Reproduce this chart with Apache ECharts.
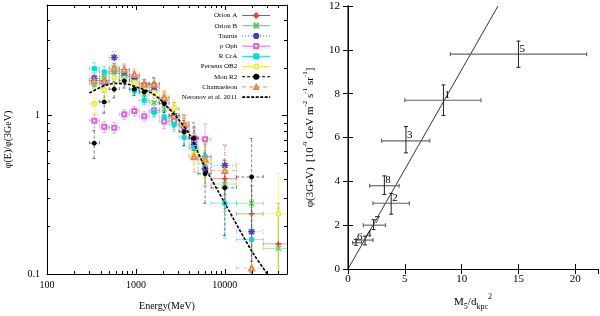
<!DOCTYPE html>
<html><head><meta charset="utf-8">
<script src="https://cdn.jsdelivr.net/npm/echarts@6/dist/echarts.min.js"></script>
<style>html,body{margin:0;padding:0;background:#fff}#c{width:600px;height:316px}</style>
</head><body><div id="c"></div>
<script>
// ---------- Left panel data ----------
const energyMeV  = [340, 440, 570, 740, 960, 1240, 1600, 2080, 2690, 3480, 4500, 6000, 10000, 20000, 40000];
const binLowMeV  = [300, 390, 500, 650, 845, 1090, 1410, 1830, 2360, 3060, 3960, 5000, 7000, 13500, 27000];
const binHighMeV = [390, 500, 650, 845, 1090, 1410, 1830, 2360, 3060, 3960, 5000, 7000, 13500, 27000, 55000];

const orionA  = [1.66, 1.66, 1.85, 1.95, 1.78, 1.60, 1.52, 1.30, 1.10, 0.90, 0.72, 0.55, 0.40, 0.24, 0.155];
const orionB  = [1.58, 1.76, 2.00, 1.89, 1.64, 1.37, 1.21, 1.10, 0.98, 0.80, 0.62, 0.50, 0.37, 0.28, 0.145];
const taurus  = [1.72, 1.62, 2.33, 1.80, 1.72, 1.55, 1.45, 1.25, 1.00, 0.85, 0.66, 0.46, 0.485, 0.185, null];
const rhoOph  = [0.93, 0.85, 0.84, 1.02, 1.07, 0.99, 1.08, 0.92, 0.93, 0.86, 0.72, 0.71, null, null, null];
const rCrA    = [1.98, 1.89, 1.90, 1.75, 1.44, 1.25, 1.05, 0.98, 0.88, 0.73, 0.63, 0.55, 0.28, 0.165, null];
const persOB2 = [1.19, 1.45, 1.74, 1.70, 1.62, 1.50, 1.40, 1.31, 1.12, 0.88, 0.57, 0.52, null, null, 0.24];
const monR2   = [0.67, 1.22, 1.47, 1.66, 1.47, 1.41, 1.58, 1.19, 1.00, 0.79, 0.72, 0.43, 0.35, 0.41, null];
const chamael = [1.66, 1.66, 2.00, 1.95, 1.82, 1.58, 1.58, 1.30, 1.00, 0.88, 0.55, 0.53, 0.45, 0.109, null];

// relative y uncertainties
const errOrionA  = [0.08, 0.07, 0.07, 0.07, 0.06, 0.06, 0.07, 0.08, 0.10, 0.12, 0.16, 0.20, 0.30, 0.50, 0.80];
const errOrionB  = [0.08, 0.07, 0.07, 0.06, 0.06, 0.06, 0.07, 0.08, 0.09, 0.11, 0.14, 0.20, 0.30, 0.50, 0.80];
const errTaurus  = [0.09, 0.08, 0.09, 0.08, 0.07, 0.07, 0.08, 0.09, 0.11, 0.13, 0.17, 0.22, 0.35, 0.60, null];
const errRhoOph  = [0.10, 0.08, 0.08, 0.07, 0.07, 0.07, 0.08, 0.10, 0.12, 0.14, 0.18, 0.25, null, null, null];
const errRCrA    = [0.09, 0.08, 0.08, 0.07, 0.06, 0.06, 0.07, 0.08, 0.10, 0.12, 0.15, 0.22, 0.40, 0.60, null];
const errPersOB2 = [0.15, 0.12, 0.10, 0.09, 0.08, 0.08, 0.09, 0.10, 0.12, 0.15, 0.20, 0.30, null, null, 0.80];
const errMonR2   = [0.20, 0.15, 0.12, 0.10, 0.09, 0.09, 0.10, 0.12, 0.15, 0.18, 0.25, 0.35, 0.50, 0.75, null];
const errChamael = [0.10, 0.10, 0.09, 0.09, 0.08, 0.08, 0.09, 0.10, 0.12, 0.15, 0.20, 0.30, 0.45, 0.70, null];

const neronovE = [300, 400, 500, 600, 800, 1000, 1500, 2000, 3000, 4000, 6000, 10000, 20000, 30000, 36000];
const neronovV = [1.39, 1.51, 1.58, 1.60, 1.58, 1.52, 1.39, 1.22, 0.95, 0.76, 0.47, 0.28, 0.14, 0.10, 0.085];

const energyRange = [100, 50000];
const ratioRange  = [0.1, 5];
const minorYTicks = [0.2, 0.3, 0.4, 0.5, 0.6, 0.7, 0.8, 0.9, 2, 3, 4];
const minorXTicks = [200, 300, 400, 500, 600, 700, 800, 900, 2000, 3000, 4000, 5000, 6000, 7000, 8000, 9000, 20000, 30000, 40000];

// ---------- Right panel data ----------
const regionId  = [1, 2, 3, 4, 5, 6, 7, 8];
const massRatio = [8.4, 3.8, 5.1, 1.5, 15.0, 0.7, 2.25, 3.2];
const massLo    = [5.0, 2.2, 2.95, 0.72, 9.0, 0.41, 1.35, 1.9];
const massHi    = [11.7, 5.4, 7.2, 2.2, 21.0, 1.2, 3.3, 4.5];
const flux3GeV  = [7.7, 3.0, 5.85, 1.32, 9.8, 1.2, 2.0, 3.8];
const fluxLo    = [7.0, 2.5, 5.3, 1.1, 9.2, 1.08, 1.8, 3.4];
const fluxHi    = [8.4, 3.45, 6.5, 1.5, 10.4, 1.35, 2.25, 4.25];
const fitX = [0, 13.2];
const fitY = [0, 12];

// ---------- build ----------
const SERIF = 'Liberation Serif, DejaVu Serif, serif';
const sets = [
  {name: 'Orion A', v: orionA, e: errOrionA, color: '#e4403a', dash: 'solid', sym: 'path://M4.4,0H5.6V4.4H10V5.6H5.6V10H4.4V5.6H0V4.4H4.4Z', size: 5},
  {name: 'Orion B', v: orionB, e: errOrionB, color: '#55cc55', dash: 'solid', sym: 'path://M0.8,0L5,4.2L9.2,0L10,0.8L5.8,5L10,9.2L9.2,10L5,5.8L0.8,10L0,9.2L4.2,5L0,0.8Z', size: 5},
  {name: 'Taurus', v: taurus, e: errTaurus, color: '#4040c0', dash: [1, 2], sym: 'path://M4.4,0H5.6V3.6L8.5,0.7L9.3,1.5L6.4,4.4H10V5.6H6.4L9.3,8.5L8.5,9.3L5.6,6.4V10H4.4V6.4L1.5,9.3L0.7,8.5L3.6,5.6H0V4.4H3.6L0.7,1.5L1.5,0.7L4.4,3.6Z', size: 6},
  {name: 'ρ Oph', v: rhoOph, e: errRhoOph, color: '#dd66dd', dash: 'solid', sym: 'emptyRect', size: 4},
  {name: 'R CrA', v: rCrA, e: errRCrA, color: '#00dcdc', dash: 'solid', sym: 'rect', size: 4},
  {name: 'Perseus OB2', v: persOB2, e: errPersOB2, color: '#ecec40', dash: 'solid', sym: 'emptyCircle', size: 4},
  {name: 'Mon R2', v: monR2, e: errMonR2, color: '#000000', dash: [3, 2], sym: 'circle', size: 4},
  {name: 'Chamaeleon', v: chamael, e: errChamael, color: '#e08a4a', dash: [4, 3], sym: 'emptyTriangle', size: 5}
];

function pts(vals) {
  return energyMeV.map((e, i) => vals[i] == null ? null : [e, vals[i]]).filter(Boolean);
}
function errItems(vals, errs) {
  return energyMeV.map((e, i) => vals[i] == null ? null :
    [e, vals[i], binLowMeV[i], binHighMeV[i], vals[i] * (1 - errs[i]), vals[i] * (1 + errs[i])]).filter(Boolean);
}
function errRender(color, dash, width, hColor, opacity, withLabel) {
  return function (params, api) {
    const x = api.value(0), y = api.value(1);
    const p = api.coord([x, y]);
    const l = api.coord([api.value(2), y]), r = api.coord([api.value(3), y]);
    const b = api.coord([x, api.value(4)]), t = api.coord([x, api.value(5)]);
    const cap = 2;
    const st = {stroke: color, lineWidth: 1, lineDash: dash === 'solid' ? null : dash, opacity: opacity};
    const sth = {stroke: hColor || color, lineWidth: width || 1, lineDash: dash === 'solid' ? null : dash, opacity: opacity};
    const line = (x1, y1, x2, y2, s) => ({type: 'line', shape: {x1, y1, x2, y2}, style: s});
    const children = [
      line(l[0], l[1], r[0], r[1], sth),
      line(l[0], l[1] - cap, l[0], l[1] + cap, sth),
      line(r[0], r[1] - cap, r[0], r[1] + cap, sth),
      line(b[0], b[1], t[0], t[1], st),
      line(b[0] - cap, b[1], b[0] + cap, b[1], st),
      line(t[0] - cap, t[1], t[0] + cap, t[1], st)
    ];
    if (withLabel) {
      children.push({type: 'text', x: p[0] + 1, y: p[1] - 5.5, silent: true,
        style: {text: String(api.value(6)), fill: '#000', font: '11px ' + SERIF,
          textAlign: 'left', textVerticalAlign: 'middle', verticalAlign: 'middle'}});
    }
    return {type: 'group', children: children};
  };
}
function logFmt(v) {
  const l = Math.log10(v);
  if (Math.abs(l - Math.round(l)) > 1e-6) return '';
  return v < 1 ? v.toFixed(1) : String(Math.round(v));
}

const series = [];
sets.forEach(s => {
  series.push({
    type: 'custom', name: s.name + ' err', xAxisIndex: 0, yAxisIndex: 0, clip: true, silent: true, z: 2,
    data: errItems(s.v, s.e), encode: {x: 0, y: 1},
    renderItem: errRender(s.color, s.dash, 1, null, 0.5, false)
  });
});
sets.forEach(s => {
  series.push({
    type: 'line', name: s.name, xAxisIndex: 0, yAxisIndex: 0, data: pts(s.v),
    symbol: s.sym, symbolSize: s.size, showSymbol: true, clip: true, silent: true, z: 3,
    itemStyle: {color: s.color, borderColor: s.color, borderWidth: 1},
    lineStyle: {opacity: 0, color: s.color, type: s.dash, width: 1}
  });
});
series.push({
  type: 'line', name: 'Neronov et al. 2011', xAxisIndex: 0, yAxisIndex: 0,
  data: neronovE.map((e, i) => [e, neronovV[i]]), smooth: 0.3, symbol: 'none', showSymbol: false,
  clip: true, silent: true, z: 4,
  itemStyle: {color: '#000'},
  lineStyle: {color: '#000', width: 1.6, type: [3, 1.5]}
});
// minor ticks for the log axes
series.push({
  type: 'custom', xAxisIndex: 0, yAxisIndex: 0, clip: false, silent: true, z: 5,
  data: minorYTicks.map(v => [energyRange[0], v]), encode: {x: 0, y: 1},
  renderItem: (p, api) => {
    const v = api.value(1);
    const a = api.coord([energyRange[0], v]), b = api.coord([energyRange[1], v]);
    const st = {stroke: '#000', lineWidth: 1};
    return {type: 'group', children: [
      {type: 'line', shape: {x1: a[0], y1: Math.round(a[1]) + 0.5, x2: a[0] + 3, y2: Math.round(a[1]) + 0.5}, style: st},
      {type: 'line', shape: {x1: b[0] - 3, y1: Math.round(b[1]) + 0.5, x2: b[0], y2: Math.round(b[1]) + 0.5}, style: st}
    ]};
  }
});
series.push({
  type: 'custom', xAxisIndex: 0, yAxisIndex: 0, clip: false, silent: true, z: 5,
  data: minorXTicks.map(v => [v, ratioRange[0]]), encode: {x: 0, y: 1},
  renderItem: (p, api) => {
    const v = api.value(0);
    const a = api.coord([v, ratioRange[0]]), b = api.coord([v, ratioRange[1]]);
    const st = {stroke: '#000', lineWidth: 1};
    const x = Math.round(a[0]) + 0.5;
    return {type: 'group', children: [
      {type: 'line', shape: {x1: x, y1: a[1], x2: x, y2: a[1] - 3}, style: st},
      {type: 'line', shape: {x1: x, y1: b[1], x2: x, y2: b[1] + 3}, style: st}
    ]};
  }
});

// Right panel
series.push({
  type: 'custom', name: 'regions err', xAxisIndex: 2, yAxisIndex: 2, clip: false, silent: true, z: 4,
  data: regionId.map((id, i) => [massRatio[i], flux3GeV[i], massLo[i], massHi[i], fluxLo[i], fluxHi[i], id]),
  encode: {x: 0, y: 1},
  renderItem: errRender('#222', 'solid', 1.2, '#666', 1, true)
});
series.push({
  type: 'line', name: 'fit', xAxisIndex: 2, yAxisIndex: 2, clip: true, silent: true, z: 3,
  data: fitX.map((x, i) => [x, fitY[i]]), symbol: 'none',
  lineStyle: {color: '#000', width: 0.8}
});

const axLine = {show: true, lineStyle: {color: '#000', width: 1}};
const tick = {show: true, inside: true, length: 5, lineStyle: {color: '#000', width: 1}};
const lblL = {fontFamily: SERIF, fontSize: 10, color: '#000'};
const lblR = {fontFamily: SERIF, fontSize: 11, color: '#000'};

const option = {
  animation: false,
  backgroundColor: '#fff',
  grid: [
    {left: 47, right: 313, top: 5, bottom: 33, show: false},
    {left: 348, right: 2, top: 6, bottom: 35, show: false}
  ],
  legend: {
    data: sets.map(s => ({name: s.name, lineStyle: {opacity: 1, width: 1, color: s.color, type: s.dash}}))
      .concat([{name: 'Neronov et al. 2011', itemStyle: {opacity: 0},
        lineStyle: {opacity: 1, width: 1.6, color: '#000', type: [3, 1.5]}}]),
    orient: 'vertical', right: 324, top: 7, align: 'right',
    itemWidth: 28, itemHeight: 5, itemGap: 3.2, selectedMode: false,
    textStyle: {fontFamily: SERIF, fontSize: 7, color: '#000'}
  },
  xAxis: [
    {type: 'log', gridIndex: 0, min: energyRange[0], max: energyRange[1], logBase: 10, position: 'bottom',
     axisLine: axLine, axisTick: tick, splitLine: {show: false},
     axisLabel: Object.assign({formatter: logFmt, margin: 6}, lblL),
     name: 'Energy(MeV)', nameLocation: 'middle', nameGap: 27,
     nameTextStyle: {fontFamily: SERIF, fontSize: 10, color: '#000'}},
    {type: 'log', gridIndex: 0, min: energyRange[0], max: energyRange[1], logBase: 10, position: 'top',
     axisLine: axLine, axisTick: tick, splitLine: {show: false}, axisLabel: {show: false}},
    {type: 'value', gridIndex: 1, min: 0, max: 22, interval: 5, position: 'bottom',
     axisLine: axLine, axisTick: tick, splitLine: {show: false},
     axisLabel: Object.assign({showMaxLabel: false, margin: 5}, lblR),
     name: '{a|M}{b|5}{a|/d}{b|kpc}{c|2}', nameLocation: 'middle', nameGap: 24,
     nameTextStyle: {fontFamily: SERIF, color: '#000', rich: {
       a: {fontFamily: SERIF, fontSize: 11, color: '#000', lineHeight: 18},
       b: {fontFamily: SERIF, fontSize: 8, color: '#000', verticalAlign: 'bottom', lineHeight: 8},
       c: {fontFamily: SERIF, fontSize: 8, color: '#000', verticalAlign: 'top', lineHeight: 8}
     }}},
    {type: 'value', gridIndex: 1, min: 0, max: 22, interval: 5, position: 'top',
     axisLine: axLine, axisTick: tick, splitLine: {show: false}, axisLabel: {show: false}}
  ],
  yAxis: [
    {type: 'log', gridIndex: 0, min: ratioRange[0], max: ratioRange[1], logBase: 10, position: 'left',
     axisLine: axLine, axisTick: tick, splitLine: {show: false},
     axisLabel: Object.assign({formatter: logFmt, margin: 7}, lblL),
     name: 'φ(E)/φ(3GeV)', nameLocation: 'middle', nameGap: 34,
     nameTextStyle: {fontFamily: SERIF, fontSize: 10, color: '#000'}},
    {type: 'log', gridIndex: 0, min: ratioRange[0], max: ratioRange[1], logBase: 10, position: 'right',
     axisLine: axLine, axisTick: tick, splitLine: {show: false}, axisLabel: {show: false}},
    {type: 'value', gridIndex: 1, min: 0, max: 12, interval: 2, position: 'left',
     axisLine: {show: true, lineStyle: {color: '#777', width: 2}}, axisTick: tick, splitLine: {show: false},
     axisLabel: Object.assign({margin: 8}, lblR),
     name: '{a|φ(3GeV)  [10}{s|-9}{a| GeV m}{s|-2}{a| s}{s|-1}{a| sr}{s|-1}{a|]}',
     nameLocation: 'middle', nameGap: 30,
     nameTextStyle: {fontFamily: SERIF, color: '#000', rich: {
       a: {fontFamily: SERIF, fontSize: 11, color: '#000', lineHeight: 16},
       s: {fontFamily: SERIF, fontSize: 7, color: '#000', verticalAlign: 'top', lineHeight: 8}
     }}},
    {type: 'value', gridIndex: 1, min: 0, max: 12, interval: 2, position: 'right',
     axisLine: axLine, axisTick: tick, splitLine: {show: false}, axisLabel: {show: false}}
  ],
  series: series
};
const chart = echarts.init(document.getElementById('c'), null, {renderer: 'canvas'});
chart.setOption(option);
</script></body></html>
